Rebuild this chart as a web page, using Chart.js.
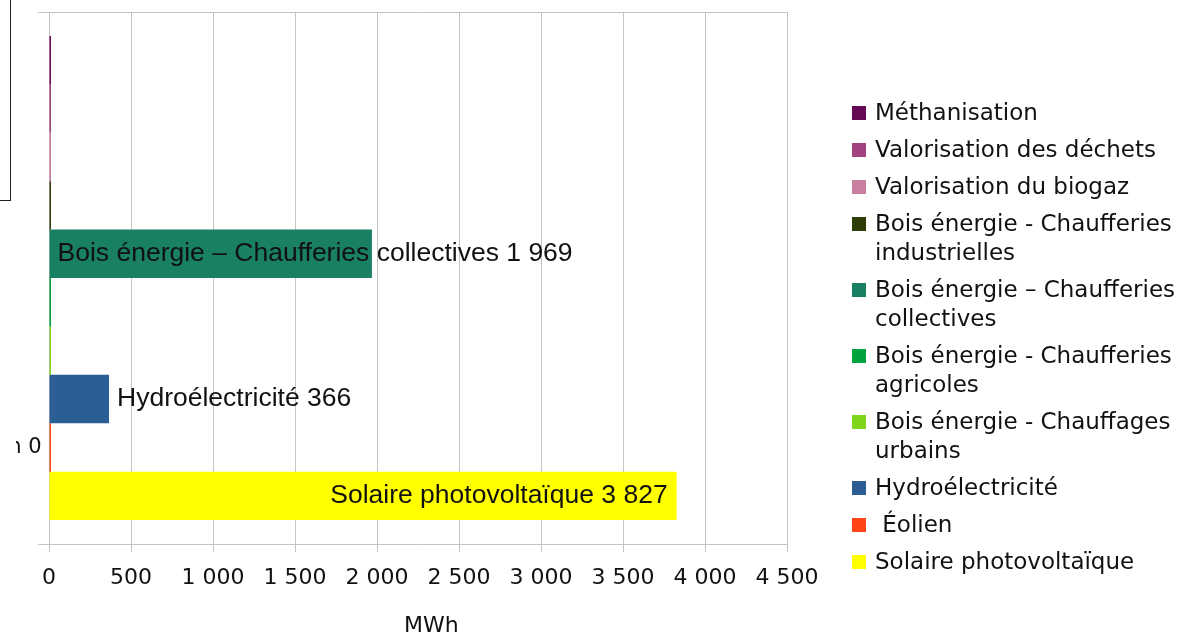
<!DOCTYPE html>
<html lang="fr">
<head>
<meta charset="utf-8">
<title>Production renouvelable</title>
<script src="https://cdn.jsdelivr.net/npm/chart.js@4.4.1/dist/chart.umd.min.js"></script>
<style>
  html, body { margin: 0; padding: 0; background: #fff; }
  #wrap { position: relative; width: 1178px; height: 636px; overflow: hidden; }
  #chart { position: absolute; left: 0; top: 0; }
  #legend {
    position: absolute; left: 852px; top: 98px;
    font-family: "DejaVu Sans", sans-serif; font-size: 23px; color: #111;
  }
  .item { display: flex; align-items: flex-start; margin-bottom: 8px; }
  .swatch { width: 14px; height: 14px; margin-top: 8px; margin-right: 9px; flex: none; }
  .text { line-height: 29px; white-space: pre; }
  #axisTitle {
    position: absolute; left: 404px; top: 612px;
    font-family: "DejaVu Sans", sans-serif; font-size: 22px; line-height: 26px; color: #111;
  }
  #corner {
    position: absolute; left: 0; top: 0; width: 10px; height: 200px;
    border-right: 1px solid #222; border-bottom: 1px solid #222;
  }
</style>
</head>
<body>
<div id="wrap">
  <canvas id="chart" width="1178" height="636"></canvas>
  <div id="corner"></div>
  <div id="axisTitle"></div>
  <div id="legend"></div>
</div>
<script>
const seriesNames = [
  "Méthanisation",
  "Valorisation des déchets",
  "Valorisation du biogaz",
  "Bois énergie - Chaufferies industrielles",
  "Bois énergie – Chaufferies collectives",
  "Bois énergie - Chaufferies agricoles",
  "Bois énergie - Chauffages urbains",
  "Hydroélectricité",
  "Éolien",
  "Solaire photovoltaïque",
];
const legendLabels = [
  "Méthanisation",
  "Valorisation des déchets",
  "Valorisation du biogaz",
  "Bois énergie - Chaufferies\nindustrielles",
  "Bois énergie – Chaufferies\ncollectives",
  "Bois énergie - Chaufferies\nagricoles",
  "Bois énergie - Chauffages\nurbains",
  "Hydroélectricité",
  " Éolien",
  "Solaire photovoltaïque",
];
const seriesValues = [0, 0, 0, 0, 1969, 0, 0, 366, 0, 3827];
const seriesColors = [
  "#670a55", "#a2437f", "#c97fa0", "#2f3d07", "#1a8064",
  "#00a33c", "#7fd41c", "#2c5e96", "#ff4415", "#ffff00",
];
// where the value label sits for each series (null = no label)
const labelPlacement = [null, null, null, null, "insideStart", null, null, "outside", "beforeAxis", "insideEnd"];
const xTicksMax = 4500;
const xTickStep = 500;
const axisTitle = "MWh";

function formatNumber(value) {
  return String(value).replace(/\B(?=(\d{3})+$)/g, " ");
}

document.getElementById("axisTitle").textContent = axisTitle;

const legendEl = document.getElementById("legend");
legendEl.innerHTML = legendLabels
  .map((label, i) => `<div class="item"><span class="swatch" style="background:${seriesColors[i]}"></span><span class="text">${label}</span></div>`)
  .join("");

const valueLabels = {
  id: "valueLabels",
  afterDatasetsDraw(chart) {
    const ctx = chart.ctx;
    ctx.save();
    ctx.font = '26.5px "Liberation Sans", Arial, sans-serif';
    ctx.fillStyle = "#111";
    ctx.textBaseline = "middle";
    chart.data.datasets.forEach((ds, i) => {
      const place = labelPlacement[i];
      if (!place) return;
      const bar = chart.getDatasetMeta(i).data[0];
      const text = `${seriesNames[i]} ${formatNumber(ds.data[0])}`;
      if (place === "insideStart") {
        ctx.textAlign = "left";
        ctx.fillText(text, bar.base + 8, bar.y);
      } else if (place === "outside") {
        ctx.textAlign = "left";
        ctx.fillText(text, bar.x + 8, bar.y);
      } else if (place === "insideEnd") {
        ctx.textAlign = "right";
        ctx.fillText(text, bar.x - 9, bar.y);
      } else if (place === "beforeAxis") {
        // the reference only shows the tail of this label
        ctx.save();
        ctx.font = '21px "DejaVu Sans", sans-serif';
        ctx.beginPath();
        ctx.rect(16, bar.y - 20, 40, 40);
        ctx.clip();
        ctx.textAlign = "right";
        ctx.fillText(text, bar.base - 8, bar.y);
        ctx.restore();
      }
    });
    ctx.restore();
  },
};

const gridColor = "#c4c4c4";

new Chart(document.getElementById("chart"), {
  type: "bar",
  data: {
    labels: [""],
    datasets: seriesNames.map((name, i) => ({
      label: name,
      data: [seriesValues[i]],
      backgroundColor: seriesColors[i],
      borderWidth: 0,
      minBarLength: 2,
    })),
  },
  options: {
    indexAxis: "y",
    responsive: false,
    devicePixelRatio: 1,
    animation: false,
    barPercentage: 1,
    categoryPercentage: 0.91,
    layout: { padding: { left: 0, top: 12, right: 391, bottom: 0 } },
    plugins: {
      legend: { display: false },
      tooltip: { enabled: false },
    },
    scales: {
      x: {
        min: 0,
        max: xTicksMax,
        ticks: {
          stepSize: xTickStep,
          color: "#111",
          padding: 13,
          font: { family: "DejaVu Sans", size: 22 },
          callback: (value) => formatNumber(value),
        },
        grid: { color: gridColor, tickLength: 8, lineWidth: 1 },
        border: { color: gridColor },
        afterFit: (scale) => { scale.height = 92; },
      },
      y: {
        ticks: { display: false },
        grid: { color: gridColor, tickLength: 11, lineWidth: 1 },
        border: { color: gridColor },
        afterFit: (scale) => { scale.width = 49; },
      },
    },
  },
  plugins: [valueLabels],
});
</script>
</body>
</html>
